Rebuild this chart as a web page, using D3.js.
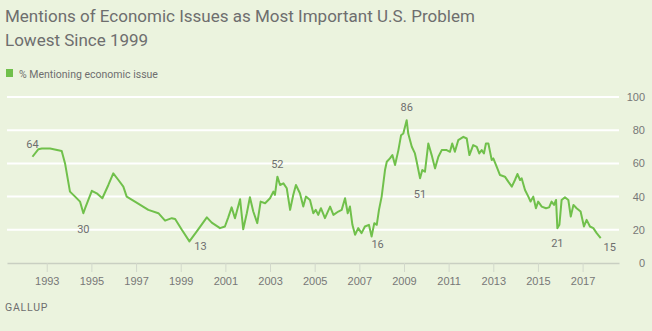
<!DOCTYPE html>
<html>
<head>
<meta charset="utf-8">
<script src="https://cdn.jsdelivr.net/npm/d3@7"></script>
<style>
  body { margin: 0; background: #ebf3de; }
  svg { display: block; font-family: Roboto, "Liberation Sans", sans-serif; }
</style>
</head>
<body>
<script>
// % of Americans naming an economic issue as the most important problem

var years = [
  1992.36, 1992.62, 1992.78, 1993.15, 1993.67, 1993.82, 1994.04, 1994.27, 1994.49, 1994.64,
  1994.72, 1995.02, 1995.24, 1995.49, 1995.76, 1995.98, 1996.21, 1996.43, 1996.58, 1996.95,
  1997.55, 1998.0, 1998.3, 1998.6, 1998.75, 1999.05, 1999.39, 1999.72, 2000.17, 2000.39,
  2000.76, 2000.98, 2001.13, 2001.28, 2001.43, 2001.66, 2001.8, 2001.96, 2002.1, 2002.25,
  2002.43, 2002.58, 2002.78, 2003.0, 2003.15, 2003.22, 2003.33, 2003.45, 2003.6, 2003.75,
  2003.9, 2004.04, 2004.16, 2004.34, 2004.49, 2004.61, 2004.79, 2004.94, 2005.05, 2005.16,
  2005.28, 2005.46, 2005.69, 2005.84, 2006.06, 2006.21, 2006.36, 2006.48, 2006.58, 2006.69,
  2006.81, 2006.95, 2007.1, 2007.25, 2007.43, 2007.55, 2007.67, 2007.78, 2007.88, 2008.0,
  2008.15, 2008.23, 2008.37, 2008.48, 2008.6, 2008.75, 2008.87, 2008.97, 2009.12, 2009.19,
  2009.35, 2009.49, 2009.57, 2009.72, 2009.82, 2009.94, 2010.09, 2010.24, 2010.39, 2010.54,
  2010.69, 2010.91, 2011.06, 2011.16, 2011.28, 2011.43, 2011.66, 2011.81, 2011.93, 2012.1,
  2012.26, 2012.37, 2012.48, 2012.58, 2012.67, 2012.78, 2012.93, 2013.0, 2013.15, 2013.3,
  2013.52, 2013.67, 2013.83, 2013.97, 2014.08, 2014.2, 2014.27, 2014.42, 2014.57, 2014.67,
  2014.79, 2014.91, 2015.01, 2015.17, 2015.36, 2015.5, 2015.61, 2015.72, 2015.81, 2015.87,
  2015.96, 2016.06, 2016.21, 2016.36, 2016.47, 2016.59, 2016.73, 2016.91, 2017.06, 2017.18,
  2017.33, 2017.48, 2017.63, 2017.81
];
var values = [
  64, 68.5, 69, 69, 67.5, 60, 43, 40, 37, 30,
  33, 43.5, 42, 39, 47, 54, 50, 46, 40, 37,
  32, 30, 25.5, 27, 26.5, 20, 13, 19, 27.5, 24.3,
  21, 22, 27.5, 33.5, 27, 38.4, 20.3, 30, 39.6, 31,
  24, 37, 36, 39, 43, 41, 52, 47, 48, 45,
  32, 41, 47, 42, 34, 40, 38, 30, 32, 29,
  33, 27, 34, 29, 31, 32, 39, 30, 34, 23,
  17, 21, 18, 22, 23, 16, 24, 23, 32, 40,
  56, 61, 63, 65, 59, 68, 77, 78, 86, 78,
  70, 66, 61, 51, 56, 55, 72, 65, 57, 64,
  68, 68, 67, 72, 67, 74, 76, 75, 65, 71,
  70, 66, 68, 66, 72, 72, 62, 63, 58, 53,
  52, 49, 46, 50, 53.6, 50, 51, 44, 40, 37,
  40, 33, 37, 34, 33, 33.5, 37, 35, 38, 21,
  23, 38, 39.6, 38, 28, 35, 33, 31, 22, 26,
  22, 21, 18, 15
];

// annotated highs and lows (index into the series)
var labelIdx = [0, 9, 26, 46, 75, 88, 93, 139, 153];
var labelDx  = [0, 0, 11, 0, 6, 0, 0, 0, 9];
var labelDy  = [-13, 16, 5, -13, 8, -13, 16, 15, 9];

var xTicks = d3.range(1993, 2018, 2);
var yTicks = [0, 20, 40, 60, 80, 100];

var W = 652, H = 331;
var green = '#70c04b';
var grey = '#6e6e6e';

var svg = d3.select('body').append('svg').attr('width', W).attr('height', H);

var x = d3.scaleLinear().domain([1991.22, 2018.63]).range([7, 619]);
var y = d3.scaleLinear().domain([0, 100]).range([263, 97]);

// title
svg.append('text').attr('x', 5).attr('y', 22)
  .attr('font-size', 17).attr('fill', grey)
  .text('Mentions of Economic Issues as Most Important U.S. Problem');
svg.append('text').attr('x', 5).attr('y', 46)
  .attr('font-size', 17).attr('fill', grey)
  .text('Lowest Since 1999');

// legend
svg.append('rect').attr('x', 6).attr('y', 69).attr('width', 7).attr('height', 8).attr('fill', green);
svg.append('text').attr('x', 19).attr('y', 77.5)
  .attr('font-size', 10.5).attr('fill', grey)
  .text('% Mentioning economic issue');

// gridlines
svg.append('g').selectAll('line')
  .data(yTicks.filter(function(d){ return d > 0; }))
  .join('line')
  .attr('x1', x.range()[0]).attr('x2', x.range()[1])
  .attr('y1', function(d){ return y(d); }).attr('y2', function(d){ return y(d); })
  .attr('stroke', '#ffffff').attr('stroke-width', 2);

// y labels on the right
var yAxis = svg.append('g').attr('transform', 'translate(645,0)')
  .call(d3.axisLeft(y).tickValues(yTicks).tickSize(0).tickPadding(0));
yAxis.select('.domain').remove();
yAxis.selectAll('text').attr('fill', '#777').attr('font-size', 11).attr('font-family', null);

// x axis along zero line
var xAxis = svg.append('g').attr('transform', 'translate(0,' + y(0) + ')')
  .call(d3.axisBottom(x).tickValues(xTicks).tickFormat(d3.format('d')).tickSize(9).tickSizeOuter(0).tickPadding(5));
xAxis.select('.domain').attr('stroke', '#c9cfc2').attr('stroke-width', 1.5);
xAxis.selectAll('.tick line').attr('stroke', '#d2d8cb');
xAxis.selectAll('text').attr('fill', '#777').attr('font-size', 11).attr('font-family', null);

// series
var line = d3.line()
  .x(function(d, i){ return x(years[i]); })
  .y(function(d){ return y(d); });

svg.append('path')
  .attr('d', line(values))
  .attr('fill', 'none')
  .attr('stroke', green)
  .attr('stroke-width', 2)
  .attr('stroke-linejoin', 'round');

// value labels
svg.append('g').selectAll('text')
  .data(labelIdx)
  .join('text')
  .attr('x', function(d, i){ return x(years[d]) + labelDx[i]; })
  .attr('y', function(d, i){ return y(values[d]) + labelDy[i]; })
  .attr('dy', '0.35em')
  .attr('text-anchor', 'middle')
  .attr('font-size', 11)
  .attr('fill', grey)
  .text(function(d){ return values[d]; });

// source
svg.append('text').attr('x', 5).attr('y', 311)
  .attr('font-size', 10.5).attr('fill', grey).attr('letter-spacing', 0.8)
  .text('GALLUP');
</script>
</body>
</html>
